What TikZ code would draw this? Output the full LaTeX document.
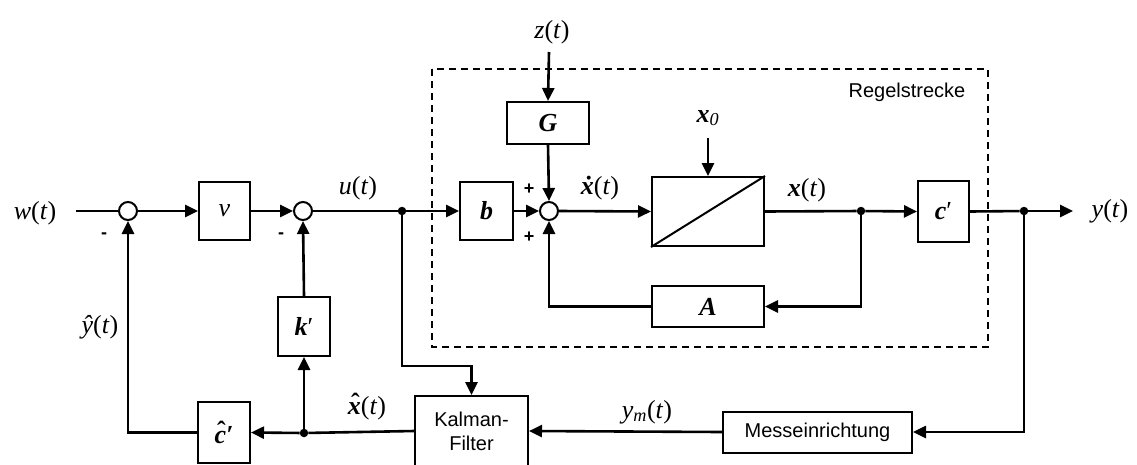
\documentclass[tikz,border=0pt]{standalone}
\usepackage{fontspec}
\setmainfont{Liberation Serif}
\newfontfamily\arial{Liberation Sans}
\usetikzlibrary{arrows.meta}
\newcommand{\vb}[1]{\textbf{\textit{#1}}}
% circumflex set over a letter by hand
\newcommand{\hatover}[1]{\leavevmode\setbox0\hbox{#1}%
  \rlap{\hbox to\wd0{\hss\kern.08em\raisebox{.12em}{\textbf{^^^^02c6}}\hss}}\box0}
\begin{document}
\begin{tikzpicture}[x=1pt,y=-1pt,
  every node/.style={inner sep=0pt,font=\fontsize{26}{30}\selectfont},
  blk/.style={draw,line width=2pt,minimum width=#1},
  sum/.style={circle,draw,line width=2pt,minimum size=18pt,fill=white},
  jdot/.style={circle,fill,minimum size=8.5pt},
  sig/.style={line width=2.6pt},
  arr/.style={sig,-{Triangle[length=13pt,width=12pt]}},
  sign/.style={font=\arial\bfseries\fontsize{18}{20}\selectfont},
  sans/.style={font=\arial\fontsize{20}{24}\selectfont,align=center},
  region/.style={draw,line width=1.8pt,dash pattern=on 7pt off 5pt}]
\useasboundingbox (0,0) rectangle (1137,464);

% controlled plant region
\draw[region] (432,69) rectangle (988,347);
\node[sans] (reg) at (907,92) {Regelstrecke};

% forward path
\coordinate (win) at (76,211);
\node (wl) at (35,213) {\textit{w}(\textit{t})};
\node[sum] (s1) at (128,211) {};
\node[blk=51pt,minimum height=58pt] (v) at (224.5,211) {\textit{v}};
\node[sum] (s2) at (303,211) {};
\node[jdot] (du) at (402,211) {};
\node (ul) at (358,188) {\textit{u}(\textit{t})};
\node[blk=53pt,minimum height=58pt] (b) at (486.5,211) {\vb{b}};
\node[sum] (s3) at (549,211) {};
\node[blk=82pt,minimum height=42pt] (G) at (548,123) {\vb{G}};
\coordinate (zin) at (549,52);
\node (zl) at (552,32) {\textit{z}(\textit{t})};
\node (xdl) at (600,188) {\vb{x^^^^0307}(\textit{t})};
\node[blk=112pt,minimum height=69pt] (int) at (708,211.5) {};
\coordinate (x0in) at (708,138);
\node (x0l) at (708,118) {\vb{x}\textsubscript{\textit{0}}};
\node (xl) at (807,190) {\vb{x}(\textit{t})};
\node[jdot] (dx) at (861,211) {};
\node[blk=51pt,minimum height=61pt] (c) at (943.5,211.5) {\vb{c}′};
\node[jdot] (dy) at (1024,211) {};
\coordinate (yout) at (1073,211);
\node (yl) at (1110,211) {\textit{y}(\textit{t})};
\node[blk=112pt,minimum height=41pt] (A) at (708,306.5) {\vb{A}};

% signs at the summing points
\node[sign] at (104,236) {-};
\node[sign] at (281,236) {-};
\node[sign] at (529,189) {+};
\node[sign] at (529,237) {+};

% observer part
\node[blk=52pt,minimum height=59pt] (k) at (304,326.5) {\vb{k}′};
\node[blk=52pt,minimum height=61pt] (ch) at (224,432.5) {\hatover{\vb{c}}\vb{′}};
\node[jdot] (dk) at (304,433) {};
\node[blk=113pt,minimum height=70pt,sans] (kal) at (471.5,431) {Kalman-\\Filter};
\node[blk=189pt,minimum height=41pt,sans] (mess) at (817.5,432) {Messeinrichtung};
\coordinate (kb) at (471.5,366);
\node (yhl) at (100,327) {\textit{y^^^^0302}(\textit{t})};
\node (xhl) at (367,407) {\hatover{\vb{x}}(\textit{t})};
\node (yml) at (647,412) {\textit{y}\textsubscript{\textit{m}}(\textit{t})};

% integrator symbol
\draw[line width=2pt] (int.south west) -- (int.north east);

% connectors
\draw[sig] (win) -- (s1.west);
\draw[arr] (s1.east) -- (v.west);
\draw[arr] (v.east) -- (s2.west);
\draw[sig] (s2.east) -- (du);
\draw[arr] (du) -- (b.west);
\draw[arr] (b.east) -- (s3.west);
\draw[arr] (zin) -- (G.north);
\draw[arr] (G.south) -- (s3.north);
\draw[arr] (s3.east) -- (int.west);
\draw[arr] (x0in) -- (int.north);
\draw[sig] (int.east) -- (dx);
\draw[arr] (dx) -- (c.west);
\draw[sig] (c.east) -- (dy);
\draw[arr] (dy) -- (yout);
\draw[arr] (dx) |- (A.east);
\draw[arr] (A.west) -| (s3.south);
\draw[arr] (du) |- (kb) -- (kal.north);
\draw[arr] (dy) |- (mess.east);
\draw[arr] (mess.west) -- (kal.east);
\draw[sig] (kal.west) -- (dk);
\draw[arr] (dk) -- (ch.east);
\draw[arr] (dk) -- (k.south);
\draw[arr] (k.north) -- (s2.south);
\draw[arr] (ch.west) -| (s1.south);
\end{tikzpicture}
\end{document}
